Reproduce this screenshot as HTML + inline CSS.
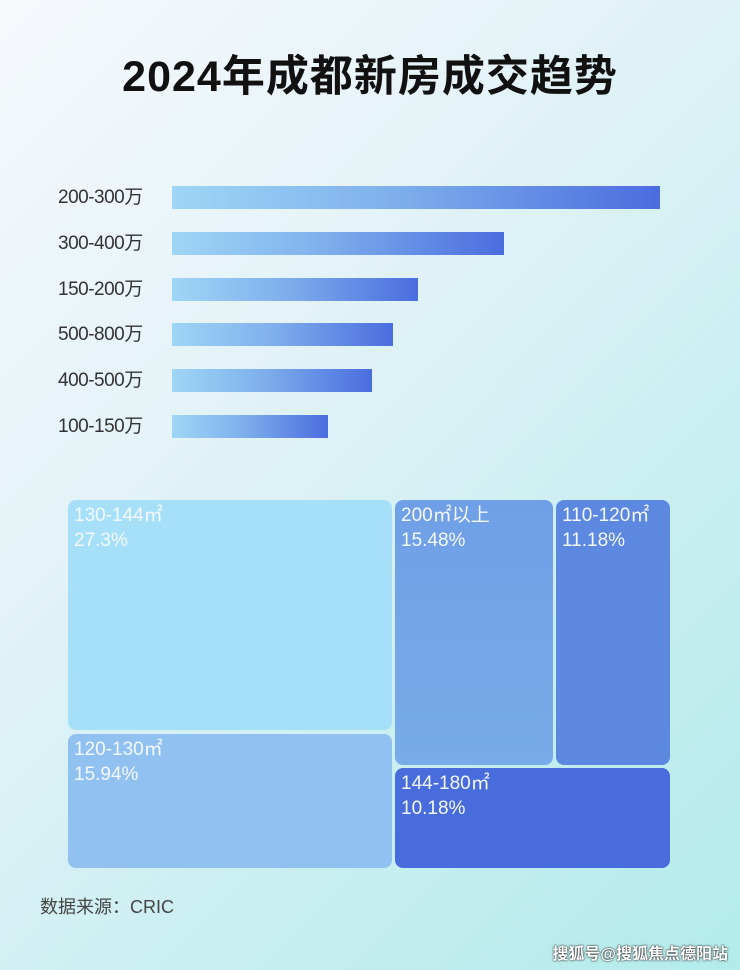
<!DOCTYPE html>
<html><head><meta charset="utf-8"><style>
*{margin:0;padding:0;box-sizing:border-box}
body{width:740px;height:970px;overflow:hidden;position:relative;font-family:"Liberation Sans","Noto Sans CJK SC",sans-serif;
background:linear-gradient(135deg,#f6f9fc 0%,#e4f3f8 35%,#c8eef0 70%,#b2ebeb 100%)}
.title{position:absolute;top:42px;left:0;width:740px;text-align:center;font-size:43px;font-weight:bold;color:#111;letter-spacing:1px}
.lbl{position:absolute;left:58px;font-size:19px;color:#333;line-height:23px;letter-spacing:-0.5px}
.bar{position:absolute;left:172px;height:23px;background:linear-gradient(90deg,#9fd6f6,#7fb0ec 45%,#4a6ddf)}
.box{position:absolute;border-radius:8px;color:#f4f8ff;font-size:19px;line-height:25px;padding:3px 6px}
.src{position:absolute;left:40px;top:893px;font-size:18px;color:#444}
.wm{position:absolute;right:12px;top:940px;font-size:16px;color:#fff;font-weight:bold;text-shadow:0 0 2px #333,0 0 1px #000}
</style></head><body>
<div class="title">2024年成都新房成交趋势</div>
<div class="lbl" style="top:186px">200-300万</div><div class="bar" style="top:186px;width:488px"></div>
<div class="lbl" style="top:232px">300-400万</div><div class="bar" style="top:232px;width:332px"></div>
<div class="lbl" style="top:278px">150-200万</div><div class="bar" style="top:278px;width:246px"></div>
<div class="lbl" style="top:323px">500-800万</div><div class="bar" style="top:323px;width:221px"></div>
<div class="lbl" style="top:369px">400-500万</div><div class="bar" style="top:369px;width:200px"></div>
<div class="lbl" style="top:415px">100-150万</div><div class="bar" style="top:415px;width:156px"></div>

<div class="box" style="left:68px;top:500px;width:324px;height:230px;background:#a6dff8">130-144㎡<br>27.3%</div>
<div class="box" style="left:68px;top:734px;width:324px;height:134px;background:#91c1f0">120-130㎡<br>15.94%</div>
<div class="box" style="left:395px;top:500px;width:158px;height:265px;background:linear-gradient(180deg,#6f9fe6,#78abe9)">200㎡以上<br>15.48%</div>
<div class="box" style="left:556px;top:500px;width:114px;height:265px;background:#5d88e0">110-120㎡<br>11.18%</div>
<div class="box" style="left:395px;top:768px;width:275px;height:100px;background:#496cdc">144-180㎡<br>10.18%</div>

<div class="src">数据来源：CRIC</div>
<div class="wm">搜狐号@搜狐焦点德阳站</div>
</body></html>
